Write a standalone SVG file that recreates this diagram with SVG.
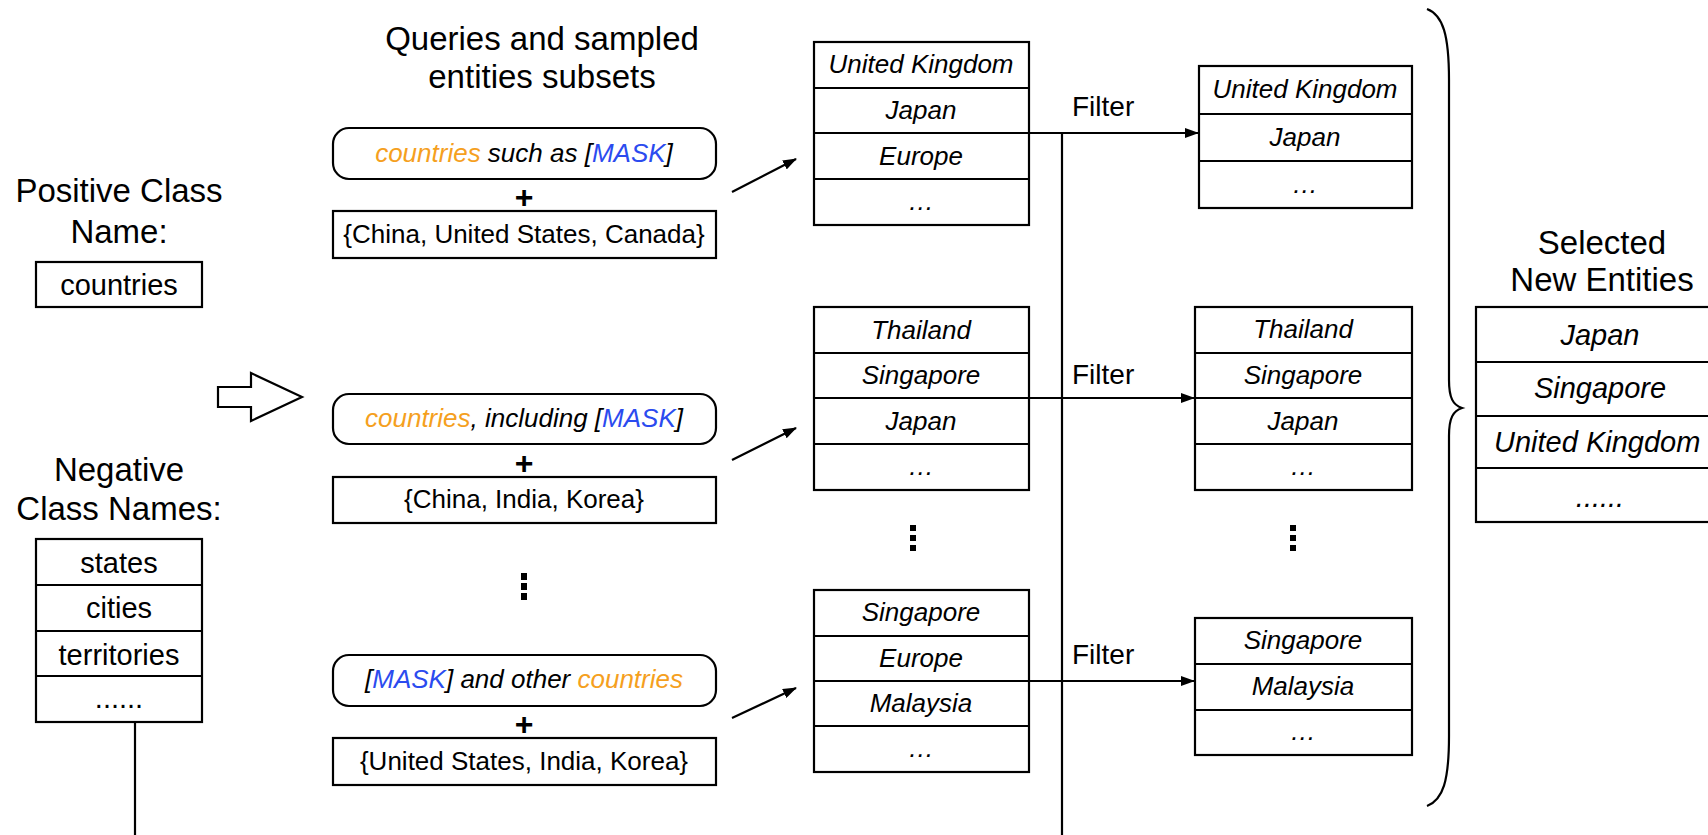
<svg xmlns="http://www.w3.org/2000/svg" width="1708" height="835" viewBox="0 0 1708 835">
<defs>
<marker id="ah" markerUnits="userSpaceOnUse" markerWidth="14" markerHeight="10" refX="13" refY="5" orient="auto">
<path d="M0,0 L14,5 L0,10 z" fill="#000"/>
</marker>
<style>
text{font-family:"Liberation Sans",Arial,Helvetica,sans-serif;fill:#000}
.h{font-size:33px;text-anchor:middle}
.t{font-size:29px;text-anchor:middle}
.it{font-size:26px;font-style:italic;text-anchor:middle}
.up{font-size:26px;text-anchor:middle}
.big{font-size:29px;font-style:italic;text-anchor:middle}
.plus{font-size:32px;font-weight:bold;text-anchor:middle}
.f{font-size:28px}
.box{fill:#fff;stroke:#000;stroke-width:2.2}
.ln{stroke:#000;stroke-width:2.2;fill:none}
.or{fill:#F5A01E}
.bl{fill:#2B4BEF}
.dot{fill:#000}
</style>
</defs>

<g id="positive">
<text class="h" x="119" y="202">Positive Class</text>
<text class="h" x="119" y="243">Name:</text>
<rect class="box" x="36" y="262" width="166" height="45"/>
<text class="t" x="119" y="295">countries</text>
</g>

<g id="negative">
<text class="h" x="119" y="481">Negative</text>
<text class="h" x="119" y="520">Class Names:</text>
<rect class="box" x="36" y="539" width="166" height="183"/>
<path class="ln" d="M36 585H202M36 631H202M36 676H202"/>
<text class="t" x="119" y="573">states</text>
<text class="t" x="119" y="618">cities</text>
<text class="t" x="119" y="665">territories</text>
<text class="t" x="119" y="708">......</text>
</g>

<g id="hollow-arrow">
<polygon points="218,387 251,387 251,373 302,397 251,421 251,407 218,407" fill="#fff" stroke="#000" stroke-width="2.2" stroke-linejoin="miter"/>
</g>

<g id="queries-title">
<text class="h" x="542" y="50">Queries and sampled</text>
<text class="h" x="542" y="88">entities subsets</text>
</g>

<g id="query1">
<rect class="box" x="333" y="128" width="383" height="51" rx="16"/>
<text class="it" x="524" y="162"><tspan class="or">countries</tspan> such as [<tspan class="bl">MASK</tspan>]</text>
<text class="plus" x="524" y="208">+</text>
<rect class="box" x="333" y="211" width="383" height="47"/>
<text class="up" x="524" y="243">{China, United States, Canada}</text>
</g>

<g id="query2">
<rect class="box" x="333" y="394" width="383" height="50" rx="16"/>
<text class="it" x="524" y="427"><tspan class="or">countries</tspan>, including [<tspan class="bl">MASK</tspan>]</text>
<text class="plus" x="524" y="474">+</text>
<rect class="box" x="333" y="477" width="383" height="46"/>
<text class="up" x="524" y="508">{China, India, Korea}</text>
</g>

<g id="query-dots">
<rect class="dot" x="521" y="573" width="6" height="7"/>
<rect class="dot" x="521" y="583" width="6" height="7"/>
<rect class="dot" x="521" y="593" width="6" height="7"/>
</g>

<g id="query3">
<rect class="box" x="333" y="655" width="383" height="51" rx="16"/>
<text class="it" x="524" y="688">[<tspan class="bl">MASK</tspan>] and other <tspan class="or">countries</tspan></text>
<text class="plus" x="524" y="735">+</text>
<rect class="box" x="333" y="738" width="383" height="47"/>
<text class="up" x="524" y="770">{United States, India, Korea}</text>
</g>

<g id="result1">
<rect class="box" x="814" y="42" width="215" height="183"/>
<path class="ln" d="M814 88H1029M814 133H1029M814 179H1029"/>
<text class="it" x="921" y="73">United Kingdom</text>
<text class="it" x="921" y="119">Japan</text>
<text class="it" x="921" y="165">Europe</text>
<text class="it" x="921" y="210">…</text>
</g>

<g id="result2">
<rect class="box" x="814" y="307" width="215" height="183"/>
<path class="ln" d="M814 353H1029M814 398H1029M814 444H1029"/>
<text class="it" x="921" y="339">Thailand</text>
<text class="it" x="921" y="384">Singapore</text>
<text class="it" x="921" y="430">Japan</text>
<text class="it" x="921" y="475">…</text>
</g>

<g id="result-dots">
<rect class="dot" x="910" y="525" width="6" height="6"/>
<rect class="dot" x="910" y="535" width="6" height="6"/>
<rect class="dot" x="910" y="545" width="6" height="6"/>
</g>

<g id="result3">
<rect class="box" x="814" y="590" width="215" height="182"/>
<path class="ln" d="M814 636H1029M814 681H1029M814 726H1029"/>
<text class="it" x="921" y="621">Singapore</text>
<text class="it" x="921" y="667">Europe</text>
<text class="it" x="921" y="712">Malaysia</text>
<text class="it" x="921" y="757">…</text>
</g>

<g id="filtered1">
<rect class="box" x="1199" y="66" width="213" height="142"/>
<path class="ln" d="M1199 114H1412M1199 161H1412"/>
<text class="it" x="1305" y="98">United Kingdom</text>
<text class="it" x="1305" y="146">Japan</text>
<text class="it" x="1305" y="193">…</text>
</g>

<g id="filtered2">
<rect class="box" x="1195" y="307" width="217" height="183"/>
<path class="ln" d="M1195 353H1412M1195 398H1412M1195 444H1412"/>
<text class="it" x="1303" y="338">Thailand</text>
<text class="it" x="1303" y="384">Singapore</text>
<text class="it" x="1303" y="430">Japan</text>
<text class="it" x="1303" y="475">…</text>
</g>

<g id="filtered-dots">
<rect class="dot" x="1290" y="525" width="6" height="6"/>
<rect class="dot" x="1290" y="535" width="6" height="6"/>
<rect class="dot" x="1290" y="545" width="6" height="6"/>
</g>

<g id="filtered3">
<rect class="box" x="1195" y="618" width="217" height="137"/>
<path class="ln" d="M1195 664H1412M1195 710H1412"/>
<text class="it" x="1303" y="649">Singapore</text>
<text class="it" x="1303" y="695">Malaysia</text>
<text class="it" x="1303" y="740">…</text>
</g>

<g id="brace">
<path class="ln" d="M1427 9 C1443 15 1449 35 1449 80 L1449 380 C1449 398 1453 405 1462 408 C1453 411 1449 418 1449 436 L1449 736 C1449 781 1443 800 1427 806"/>
</g>

<g id="selected">
<text class="h" x="1602" y="254">Selected</text>
<text class="h" x="1602" y="291">New Entities</text>
<rect class="box" x="1476" y="307" width="250" height="215"/>
<path class="ln" d="M1476 362H1710M1476 416H1710M1476 468H1710"/>
<text class="big" x="1600" y="345">Japan</text>
<text class="big" x="1600" y="398">Singapore</text>
<text class="big" x="1494" y="452" style="text-anchor:start">United Kingdom</text>
<text class="big" x="1600" y="507">......</text>
</g>

<g id="connectors">
<line class="ln" x1="732" y1="192" x2="796" y2="159" marker-end="url(#ah)"/>
<line class="ln" x1="732" y1="460" x2="796" y2="428" marker-end="url(#ah)"/>
<line class="ln" x1="732" y1="718" x2="796" y2="688" marker-end="url(#ah)"/>
<line class="ln" x1="1029" y1="133" x2="1198" y2="133" marker-end="url(#ah)"/>
<line class="ln" x1="1029" y1="398" x2="1194" y2="398" marker-end="url(#ah)"/>
<line class="ln" x1="1029" y1="681" x2="1194" y2="681" marker-end="url(#ah)"/>
<line class="ln" x1="1062" y1="133" x2="1062" y2="835"/>
<line class="ln" x1="135" y1="722" x2="135" y2="835"/>
<text class="f" x="1072" y="116">Filter</text>
<text class="f" x="1072" y="384">Filter</text>
<text class="f" x="1072" y="664">Filter</text>
</g>
</svg>
